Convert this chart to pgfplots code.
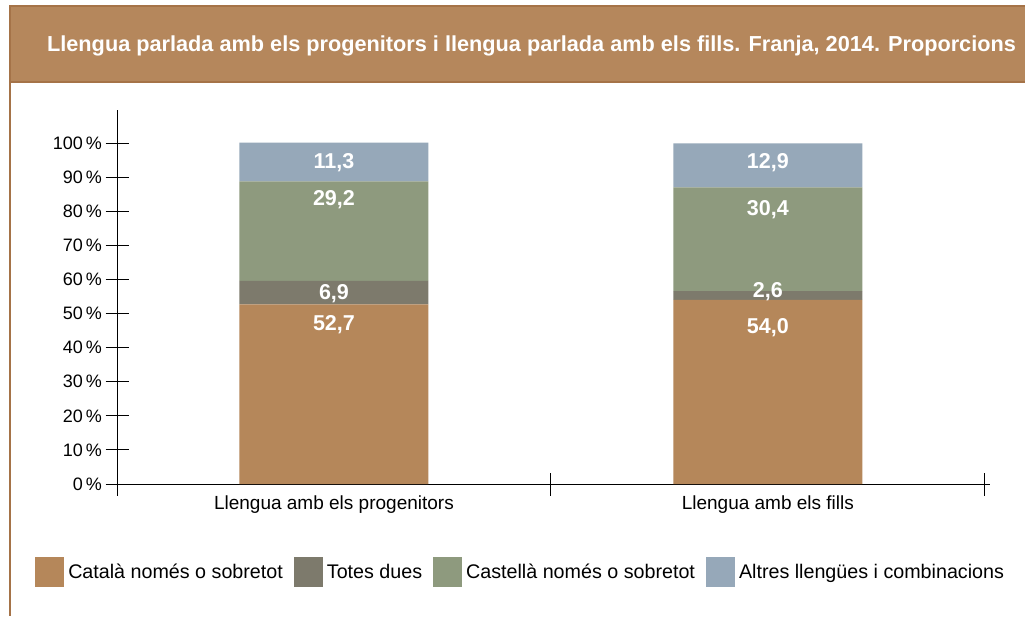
\documentclass[border=0pt]{standalone}
\usepackage{fontspec}
\setmainfont{Liberation Sans}
\usepackage{pgfplots}
\pgfplotsset{compat=1.18}
\definecolor{cat}{RGB}{181,135,90}
\definecolor{tot}{RGB}{125,122,108}
\definecolor{cas}{RGB}{142,154,126}
\definecolor{alt}{RGB}{150,168,185}
\definecolor{hdr}{RGB}{181,135,92}
\definecolor{hdrb}{RGB}{165,115,72}
\tikzset{vl/.style={text=white, font=\bfseries\fontsize{21.5}{24}\selectfont},
  cl/.style={text=black, font=\fontsize{19}{22}\selectfont}}
\pgfplotsset{sq legend/.style={legend image code/.code={\fill[##1] (0pt,-15pt) rectangle (29pt,15pt);}}}
\begin{document}
\begin{tikzpicture}
\useasboundingbox (0pt,0pt) rectangle (1025pt,-616pt);
\fill[white] (0pt,0pt) rectangle (1025pt,-616pt);
\fill[hdr] (10pt,-6pt) rectangle (1025pt,-82pt);
\draw[hdrb, line width=2pt] (1025pt,-6pt) -- (10pt,-6pt) -- (10pt,-616pt);
\draw[hdrb, line width=2pt] (10pt,-82pt) -- (1025pt,-82pt);
\node[text=white, font=\bfseries\fontsize{21.7}{25}\selectfont] at (531.5pt,-46pt) {Llengua parlada amb els progenitors i llengua parlada amb els fills. Franja, 2014. Proporcions};
\begin{axis}[
  at={(117pt,-484pt)}, anchor=south west, scale only axis,
  width=873pt, height=374pt,
  xmin=-0.5, xmax=1.512, ymin=0, ymax=109.7,
  axis x line*=bottom, axis y line*=left,
  axis line style={black, line width=1pt},
  xtick={-0.5,0.5,1.5}, xticklabels={,,},
  ytick={0,10,...,100},
  yticklabel={\pgfmathprintnumber{\tick}\,\%},
  /pgf/number format/assume math mode=true,
  tick align=center, major tick length=23pt,
  tick style={black, line width=1pt},
  ticklabel style={font=\fontsize{18}{20}\selectfont, text=black},
  ybar stacked, bar width=189pt,
  clip=false,
  legend columns=4,
  legend style={at={(-0.0973,-0.2353)}, anchor=west, draw=none, fill=none,
    font=\fontsize{19.7}{22}\selectfont,
    /tikz/every odd column/.append style={column sep=2pt},
    /tikz/every even column/.append style={column sep=9pt}},
  sq legend,
]
\addplot[fill=cat, draw=none] coordinates {(0,52.7) (1,54.0)};
\addlegendentry{Català només o sobretot}
\addplot[fill=tot, draw=none] coordinates {(0,6.9) (1,2.6)};
\addlegendentry{Totes dues}
\addplot[fill=cas, draw=none] coordinates {(0,29.2) (1,30.4)};
\addlegendentry{Castellà només o sobretot}
\addplot[fill=alt, draw=none] coordinates {(0,11.3) (1,12.9)};
\addlegendentry{Altres llengües i combinacions}
\coordinate (a1) at (axis cs:0,94.2);
\coordinate (a2) at (axis cs:0,83.4);
\coordinate (a3) at (axis cs:0,55.7);
\coordinate (a4) at (axis cs:0,46.8);
\coordinate (b1) at (axis cs:1,94.2);
\coordinate (b2) at (axis cs:1,80.4);
\coordinate (b3) at (axis cs:1,56.5);
\coordinate (b4) at (axis cs:1,46.0);
\coordinate (c1) at (axis cs:0,-5.9);
\coordinate (c2) at (axis cs:1,-5.9);
\end{axis}
\node[vl] at (a1) {11,3};
\node[vl] at (a2) {29,2};
\node[vl] at (a3) {6,9};
\node[vl] at (a4) {52,7};
\node[vl] at (b1) {12,9};
\node[vl] at (b2) {30,4};
\node[vl] at (b3) {2,6};
\node[vl] at (b4) {54,0};
\node[cl] at (c1) {Llengua amb els progenitors};
\node[cl] at (c2) {Llengua amb els fills};
\end{tikzpicture}
\end{document}
